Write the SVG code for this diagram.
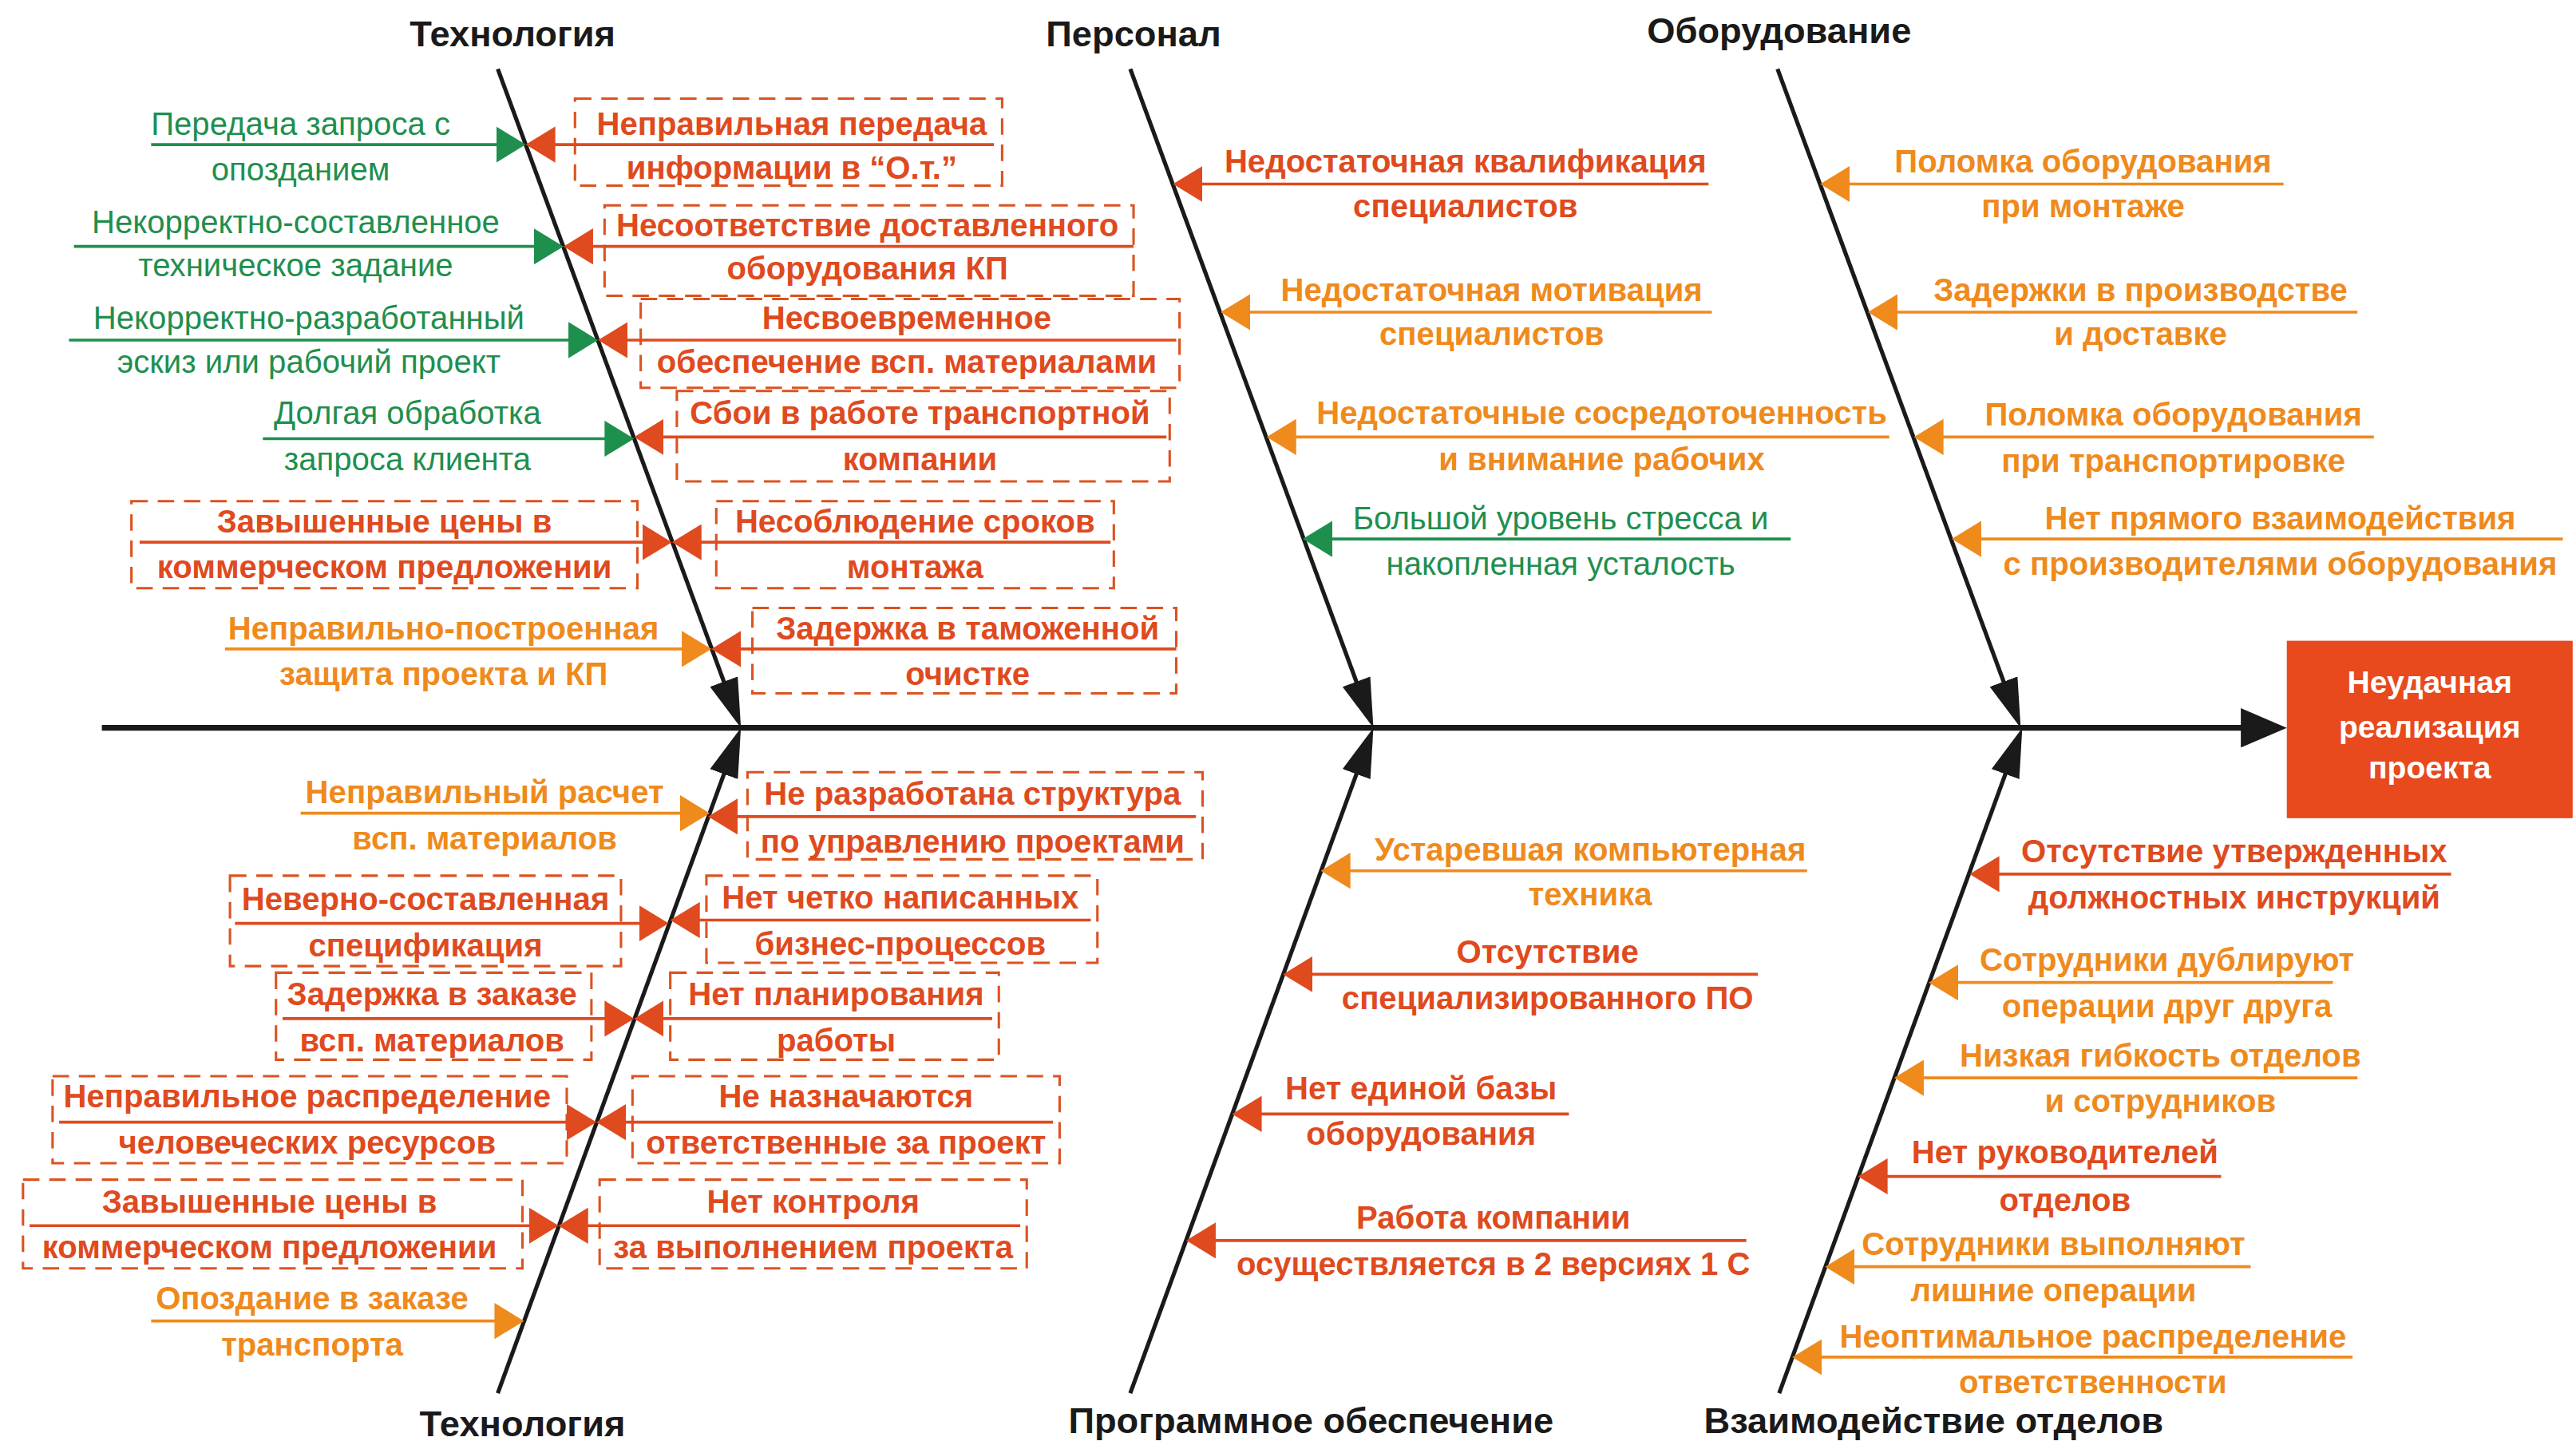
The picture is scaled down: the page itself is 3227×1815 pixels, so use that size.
<svg xmlns="http://www.w3.org/2000/svg" width="3227" height="1815" viewBox="0 0 3227 1815">
<style>
text{font-family:"Liberation Sans","Noto Sans",Arial,sans-serif;text-anchor:middle;font-size:19.5px;font-weight:bold}
.k{fill:#1a1a1a;font-size:22px}
.w{fill:#ffffff;font-size:19px}
.r{fill:#DF4A1E}
.o{fill:#EF8A1D}
.g{fill:#1F8F4E;font-weight:normal}
.lr{stroke:#DF4A1E;stroke-width:1.8;marker-end:url(#mr)}
.lo{stroke:#EF8A1D;stroke-width:1.8;marker-end:url(#mo)}
.lg{stroke:#1F8F4E;stroke-width:1.8;marker-end:url(#mg)}
.box{fill:none;stroke:#DB5320;stroke-width:1.5;stroke-dasharray:10 6}
.bone{stroke:#1a1a1a;stroke-width:2.5;marker-end:url(#mb)}
.spine{stroke:#1a1a1a;stroke-width:3.5;marker-end:url(#ms)}
</style>
<defs>
<marker id="mr" markerUnits="userSpaceOnUse" markerWidth="18" markerHeight="22" refX="11" refY="11" orient="auto"><path d="M0,0 L18,11 L0,22 z" fill="#DF4A1E"/></marker>
<marker id="mo" markerUnits="userSpaceOnUse" markerWidth="18" markerHeight="22" refX="11" refY="11" orient="auto"><path d="M0,0 L18,11 L0,22 z" fill="#EF8A1D"/></marker>
<marker id="mg" markerUnits="userSpaceOnUse" markerWidth="18" markerHeight="22" refX="11" refY="11" orient="auto"><path d="M0,0 L18,11 L0,22 z" fill="#1F8F4E"/></marker>
<marker id="mb" markerUnits="userSpaceOnUse" markerWidth="30" markerHeight="18" refX="19" refY="9" orient="auto"><path d="M0,0 L30,9 L0,18 z" fill="#1a1a1a"/></marker>
<marker id="ms" markerUnits="userSpaceOnUse" markerWidth="28" markerHeight="24" refX="14" refY="12" orient="auto"><path d="M0,0 L28,12 L0,24 z" fill="#1a1a1a"/></marker>
</defs>
<rect x="0" y="0" width="3227" height="1815" fill="#ffffff"/>
<g transform="scale(2.058)">
<g id="connectors">
<line class="spine" x1="62" y1="443" x2="1378" y2="443"/>
<line class="bone" x1="303" y1="42" x2="447.2" y2="432.7"/>
<line class="bone" x1="688" y1="42" x2="832.2" y2="432.7"/>
<line class="bone" x1="1082" y1="42" x2="1226.2" y2="432.7"/>
<line class="bone" x1="303" y1="848" x2="447.2" y2="453.3"/>
<line class="bone" x1="688" y1="848" x2="832.2" y2="453.3"/>
<line class="bone" x1="1083" y1="848" x2="1227.2" y2="453.3"/>
</g>
<g id="result">
<rect x="1392" y="390" width="174" height="108" fill="#E8491D"/>
<text class="w" x="1479" y="422">Неудачная</text>
<text class="w" x="1479" y="449">реализация</text>
<text class="w" x="1479" y="474">проекта</text>
</g>
<g id="titles">
<text class="k" x="312" y="28">Технология</text>
<text class="k" x="690" y="28">Персонал</text>
<text class="k" x="1083" y="26">Оборудование</text>
<text class="k" x="318" y="874">Технология</text>
<text class="k" x="798" y="872">Программное обеспечение</text>
<text class="k" x="1177" y="872">Взаимодействие отделов</text>
</g>
<g id="tech-top">
<g id="tt-l1"><line class="lg" x1="92" y1="88" x2="313" y2="88"/><text class="g" x="183" y="82">Передача запроса с</text><text class="g" x="183" y="110">опозданием</text></g>
<g id="tt-l2"><line class="lg" x1="45" y1="150" x2="336" y2="150"/><text class="g" x="180" y="142">Некорректно-составленное</text><text class="g" x="180" y="168">техническое задание</text></g>
<g id="tt-l3"><line class="lg" x1="42" y1="207" x2="357" y2="207"/><text class="g" x="188" y="200">Некорректно-разработанный</text><text class="g" x="188" y="227">эскиз или рабочий проект</text></g>
<g id="tt-l4"><line class="lg" x1="160" y1="267" x2="379" y2="267"/><text class="g" x="248" y="258">Долгая обработка</text><text class="g" x="248" y="286">запроса клиента</text></g>
<g id="tt-l5"><rect class="box" x="80" y="305" width="308" height="53"/><line class="lr" x1="85" y1="330" x2="402" y2="330"/><text class="r" x="234" y="324">Завышенные цены в</text><text class="r" x="234" y="352">коммерческом предложении</text></g>
<g id="tt-l6"><line class="lo" x1="137" y1="395" x2="426" y2="395"/><text class="o" x="270" y="389">Неправильно-построенная</text><text class="o" x="270" y="417">защита проекта и КП</text></g>
<g id="tt-r1"><rect class="box" x="350" y="60" width="260" height="53"/><line class="lr" x1="605" y1="88" x2="327" y2="88"/><text class="r" x="482" y="82">Неправильная передача</text><text class="r" x="482" y="109">информации в “О.т.”</text></g>
<g id="tt-r2"><rect class="box" x="368" y="125" width="322" height="55"/><line class="lr" x1="690" y1="150" x2="350" y2="150"/><text class="r" x="528" y="144">Несоответствие доставленного</text><text class="r" x="528" y="170">оборудования КП</text></g>
<g id="tt-r3"><rect class="box" x="390" y="182" width="328" height="54"/><line class="lr" x1="716" y1="207" x2="371" y2="207"/><text class="r" x="552" y="200">Несвоевременное</text><text class="r" x="552" y="227">обеспечение всп. материалами</text></g>
<g id="tt-r4"><rect class="box" x="412" y="238" width="300" height="55"/><line class="lr" x1="710" y1="266" x2="393" y2="266"/><text class="r" x="560" y="258">Сбои в работе транспортной</text><text class="r" x="560" y="286">компании</text></g>
<g id="tt-r5"><rect class="box" x="436" y="305" width="242" height="53"/><line class="lr" x1="676" y1="330" x2="416" y2="330"/><text class="r" x="557" y="324">Несоблюдение сроков</text><text class="r" x="557" y="352">монтажа</text></g>
<g id="tt-r6"><rect class="box" x="458" y="370" width="258" height="52"/><line class="lr" x1="716" y1="395" x2="440" y2="395"/><text class="r" x="589" y="389">Задержка в таможенной</text><text class="r" x="589" y="417">очистке</text></g>
</g>
<g id="personal">
<g id="p1"><line class="lr" x1="1040" y1="112" x2="721" y2="112"/><text class="r" x="892" y="105">Недостаточная квалификация</text><text class="r" x="892" y="132">специалистов</text></g>
<g id="p2"><line class="lo" x1="1042" y1="190" x2="750" y2="190"/><text class="o" x="908" y="183">Недостаточная мотивация</text><text class="o" x="908" y="210">специалистов</text></g>
<g id="p3"><line class="lo" x1="1150" y1="266" x2="778" y2="266"/><text class="o" x="975" y="258">Недостаточные сосредоточенность</text><text class="o" x="975" y="286">и внимание рабочих</text></g>
<g id="p4"><line class="lg" x1="1090" y1="328" x2="800" y2="328"/><text class="g" x="950" y="322">Большой уровень стресса и</text><text class="g" x="950" y="350">накопленная усталость</text></g>
</g>
<g id="equipment">
<g id="e1"><line class="lo" x1="1390" y1="112" x2="1115" y2="112"/><text class="o" x="1268" y="105">Поломка оборудования</text><text class="o" x="1268" y="132">при монтаже</text></g>
<g id="e2"><line class="lo" x1="1435" y1="190" x2="1144" y2="190"/><text class="o" x="1303" y="183">Задержки в производстве</text><text class="o" x="1303" y="210">и доставке</text></g>
<g id="e3"><line class="lo" x1="1445" y1="266" x2="1172" y2="266"/><text class="o" x="1323" y="259">Поломка оборудования</text><text class="o" x="1323" y="287">при транспортировке</text></g>
<g id="e4"><line class="lo" x1="1560" y1="328" x2="1195" y2="328"/><text class="o" x="1388" y="322">Нет прямого взаимодействия</text><text class="o" x="1388" y="350">с производителями оборудования</text></g>
</g>
<g id="tech-bottom">
<g id="tb-l1"><line class="lo" x1="183" y1="495" x2="425" y2="495"/><text class="o" x="295" y="489">Неправильный расчет</text><text class="o" x="295" y="517">всп. материалов</text></g>
<g id="tb-l2"><rect class="box" x="140" y="533" width="238" height="55"/><line class="lr" x1="143" y1="562" x2="400" y2="562"/><text class="r" x="259" y="554">Неверно-составленная</text><text class="r" x="259" y="582">спецификация</text></g>
<g id="tb-l3"><rect class="box" x="168" y="592" width="192" height="53"/><line class="lr" x1="172" y1="620" x2="379" y2="620"/><text class="r" x="263" y="612">Задержка в заказе</text><text class="r" x="263" y="640">всп. материалов</text></g>
<g id="tb-l4"><rect class="box" x="32" y="655" width="313" height="53"/><line class="lr" x1="36" y1="683" x2="356" y2="683"/><text class="r" x="187" y="674">Неправильное распределение</text><text class="r" x="187" y="702">человеческих ресурсов</text></g>
<g id="tb-l5"><rect class="box" x="14" y="718" width="304" height="54"/><line class="lr" x1="18" y1="746" x2="333" y2="746"/><text class="r" x="164" y="738">Завышенные цены в</text><text class="r" x="164" y="766">коммерческом предложении</text></g>
<g id="tb-l6"><line class="lo" x1="92" y1="804" x2="312" y2="804"/><text class="o" x="190" y="797">Опоздание в заказе</text><text class="o" x="190" y="825">транспорта</text></g>
<g id="tb-r1"><rect class="box" x="455" y="470" width="277" height="53"/><line class="lr" x1="728" y1="497" x2="438" y2="497"/><text class="r" x="592" y="490">Не разработана структура</text><text class="r" x="592" y="519">по управлению проектами</text></g>
<g id="tb-r2"><rect class="box" x="430" y="533" width="238" height="53"/><line class="lr" x1="664" y1="560" x2="415" y2="560"/><text class="r" x="548" y="553">Нет четко написанных</text><text class="r" x="548" y="581">бизнес-процессов</text></g>
<g id="tb-r3"><rect class="box" x="408" y="592" width="200" height="53"/><line class="lr" x1="604" y1="620" x2="393" y2="620"/><text class="r" x="509" y="612">Нет планирования</text><text class="r" x="509" y="640">работы</text></g>
<g id="tb-r4"><rect class="box" x="385" y="655" width="260" height="53"/><line class="lr" x1="641" y1="683" x2="370" y2="683"/><text class="r" x="515" y="674">Не назначаются</text><text class="r" x="515" y="702">ответственные за проект</text></g>
<g id="tb-r5"><rect class="box" x="365" y="718" width="260" height="54"/><line class="lr" x1="621" y1="746" x2="347" y2="746"/><text class="r" x="495" y="738">Нет контроля</text><text class="r" x="495" y="766">за выполнением проекта</text></g>
</g>
<g id="software">
<g id="s1"><line class="lo" x1="1100" y1="530" x2="811" y2="530"/><text class="o" x="968" y="524">Устаревшая компьютерная</text><text class="o" x="968" y="551">техника</text></g>
<g id="s2"><line class="lr" x1="1070" y1="593" x2="788" y2="593"/><text class="r" x="942" y="586">Отсутствие</text><text class="r" x="942" y="614">специализированного ПО</text></g>
<g id="s3"><line class="lr" x1="955" y1="678" x2="757" y2="678"/><text class="r" x="865" y="669">Нет единой базы</text><text class="r" x="865" y="697">оборудования</text></g>
<g id="s4"><line class="lr" x1="1063" y1="755" x2="729" y2="755"/><text class="r" x="909" y="748">Работа компании</text><text class="r" x="909" y="776">осуществляется в 2 версиях 1 С</text></g>
</g>
<g id="departments">
<g id="v1"><line class="lr" x1="1492" y1="532" x2="1206" y2="532"/><text class="r" x="1360" y="525">Отсутствие утвержденных</text><text class="r" x="1360" y="553">должностных инструкций</text></g>
<g id="v2"><line class="lo" x1="1420" y1="598" x2="1181" y2="598"/><text class="o" x="1319" y="591">Сотрудники дублируют</text><text class="o" x="1319" y="619">операции друг друга</text></g>
<g id="v3"><line class="lo" x1="1435" y1="656" x2="1160" y2="656"/><text class="o" x="1315" y="649">Низкая гибкость отделов</text><text class="o" x="1315" y="677">и сотрудников</text></g>
<g id="v4"><line class="lr" x1="1352" y1="716" x2="1138" y2="716"/><text class="r" x="1257" y="708">Нет руководителей</text><text class="r" x="1257" y="737">отделов</text></g>
<g id="v5"><line class="lo" x1="1370" y1="771" x2="1118" y2="771"/><text class="o" x="1250" y="764">Сотрудники выполняют</text><text class="o" x="1250" y="792">лишние операции</text></g>
<g id="v6"><line class="lo" x1="1432" y1="826" x2="1098" y2="826"/><text class="o" x="1274" y="820">Неоптимальное распределение</text><text class="o" x="1274" y="848">ответственности</text></g>
</g>
</g>
</svg>
